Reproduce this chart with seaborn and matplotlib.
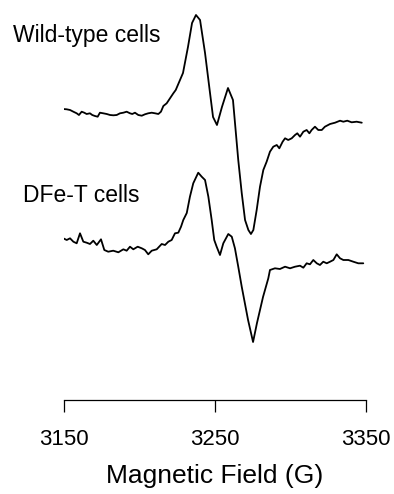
import matplotlib
matplotlib.use('Agg')
import matplotlib.pyplot as plt
import numpy as np
import seaborn as sns

# magnetic field (G) and signal (arbitrary units)
wt_field = [3148.0, 3149.5, 3151.8, 3154.0, 3156.2, 3158.4, 3159.9, 3161.7, 3163.4, 3165.0,
            3167.2, 3168.7, 3170.5, 3172.3, 3173.8, 3176.0, 3178.3, 3180.5, 3182.7, 3184.9,
            3187.1, 3189.3, 3191.5, 3193.7, 3195.2, 3197.0, 3199.2, 3201.5, 3203.6, 3205.8,
            3208.1, 3210.3, 3212.5, 3214.2, 3215.8, 3218.0, 3220.2, 3222.4, 3224.0, 3228.8,
            3232.1, 3234.8, 3237.4, 3240.1, 3243.4, 3246.7, 3248.7, 3251.3, 3254.6, 3258.6,
            3261.9, 3265.4, 3267.7, 3269.9, 3272.1, 3273.8, 3275.4, 3277.6, 3279.8, 3282.0,
            3284.2, 3286.4, 3288.6, 3290.9, 3292.6, 3294.8, 3296.4, 3298.5, 3300.8, 3303.0,
            3304.5, 3306.3, 3308.5, 3310.7, 3312.5, 3314.0, 3316.2, 3318.4, 3320.7, 3322.8,
            3326.2, 3329.5, 3332.8, 3335.0, 3337.6, 3340.5, 3343.8, 3347.2]
wt_signal = [288.3, 291, 290.7, 290, 288.3, 286.7, 285, 288.3, 287.3, 286,
             286.7, 285, 284, 283.3, 287.3, 286.7, 286, 285, 284.7, 285,
             286.7, 287.3, 288.3, 286.7, 286, 287.3, 285, 284.3, 285.7, 286.7,
             287.3, 286.7, 286, 288.3, 294, 296.7, 301.7, 306.7, 310, 327,
             353, 377, 385, 380, 347, 307, 283, 275, 293, 312,
             300, 240, 207, 180, 170, 166, 170, 190, 213.3, 230,
             238.3, 248.3, 253.3, 255, 251.7, 258.3, 261.7, 260, 261.7, 265,
             266.7, 263.3, 268.3, 270, 266.7, 270, 273.3, 270, 270, 273.3,
             276, 277.3, 279.3, 278.3, 279.3, 277.7, 278.3, 277.3]

dfe_field = [3149.5, 3151.8, 3154.0, 3156.2, 3158.4, 3160.6, 3162.8, 3165.0, 3167.2, 3169.4,
             3171.7, 3174.5, 3176.7, 3179.3, 3182.6, 3186.0, 3189.3, 3191.5, 3193.7, 3195.9,
             3198.8, 3201.5, 3203.6, 3205.8, 3208.1, 3211.4, 3214.7, 3216.9, 3219.1, 3221.3,
             3223.5, 3225.7, 3227.5, 3229.0, 3231.3, 3233.4, 3235.6, 3238.9, 3241.2, 3243.4,
             3245.6, 3247.8, 3249.5, 3251.1, 3253.3, 3255.5, 3258.8, 3261.1, 3263.2, 3265.4,
             3267.7, 3271.9, 3275.2, 3277.8, 3281.8, 3285.3, 3286.4, 3289.7, 3293.0, 3296.4,
             3299.7, 3303.0, 3306.3, 3308.5, 3310.7, 3312.9, 3315.1, 3317.4, 3319.5, 3321.7,
             3324.0, 3326.2, 3328.4, 3330.6, 3332.8, 3335.0, 3338.3, 3341.6, 3344.9, 3348.2]
dfe_signal = [161.7, 160, 161.7, 158.3, 156.7, 166.7, 158.3, 157.3, 156, 159.3,
              155, 160.7, 150, 148.3, 149.3, 147.7, 150.7, 149.3, 153.3, 150.7,
              153.3, 151.7, 150, 145.7, 149.3, 150.7, 156, 155, 158.3, 160,
              166.7, 167.3, 173.3, 180, 187, 203.3, 216.7, 227.3, 223.3, 220,
              203.3, 180, 160, 153.3, 145, 156.7, 166, 163.3, 151.7, 133.3,
              113.3, 80, 58, 77, 103, 121.7, 130, 131.7, 131, 133.3,
              131.7, 133.3, 134.3, 132.3, 136.7, 135.7, 140, 136.7, 135, 138.3,
              136.7, 138.3, 140, 145.7, 141.7, 140, 140, 138.3, 136.7, 136.7]

labels = ['Wild-type cells', 'DFe-T cells']
xticks = [3150, 3250, 3350]

sns.set_style('white')
plt.rcParams['font.family'] = ['Liberation Sans', 'DejaVu Sans']
plt.rcParams['text.color'] = 'black'
plt.rcParams['axes.labelcolor'] = 'black'
plt.rcParams['xtick.color'] = 'black'

fig = plt.figure(figsize=(3.94, 4.94), dpi=100)
ax = fig.add_axes([64 / 394, 94 / 494, 302 / 394, 400 / 494])

sns.lineplot(x=wt_field, y=wt_signal, color='black', linewidth=1.3, estimator=None, ax=ax)
sns.lineplot(x=dfe_field, y=dfe_signal, color='black', linewidth=1.3, estimator=None, ax=ax)

ax.set_xlim(3150, 3350)
ax.set_ylim(0, 400)
ax.set_yticks([])
for side in ['left', 'top', 'right']:
    ax.spines[side].set_visible(False)
ax.spines['bottom'].set_linewidth(0.9)
ax.spines['bottom'].set_color('black')
ax.set_xticks(xticks)
ax.set_xticklabels([str(t) for t in xticks])
ax.tick_params(axis='x', direction='out', length=8.6, width=0.9, color='black',
               labelsize=16, pad=12, bottom=True)
ax.set_xlabel('Magnetic Field (G)', fontsize=19, labelpad=10)

fig.text(13 / 394, 1 - 42 / 494, labels[0], fontsize=16.5, va='baseline', ha='left')
fig.text(23 / 394, 1 - 202 / 494, labels[1], fontsize=16.5, va='baseline', ha='left')

fig.savefig('out.png', dpi=100)
